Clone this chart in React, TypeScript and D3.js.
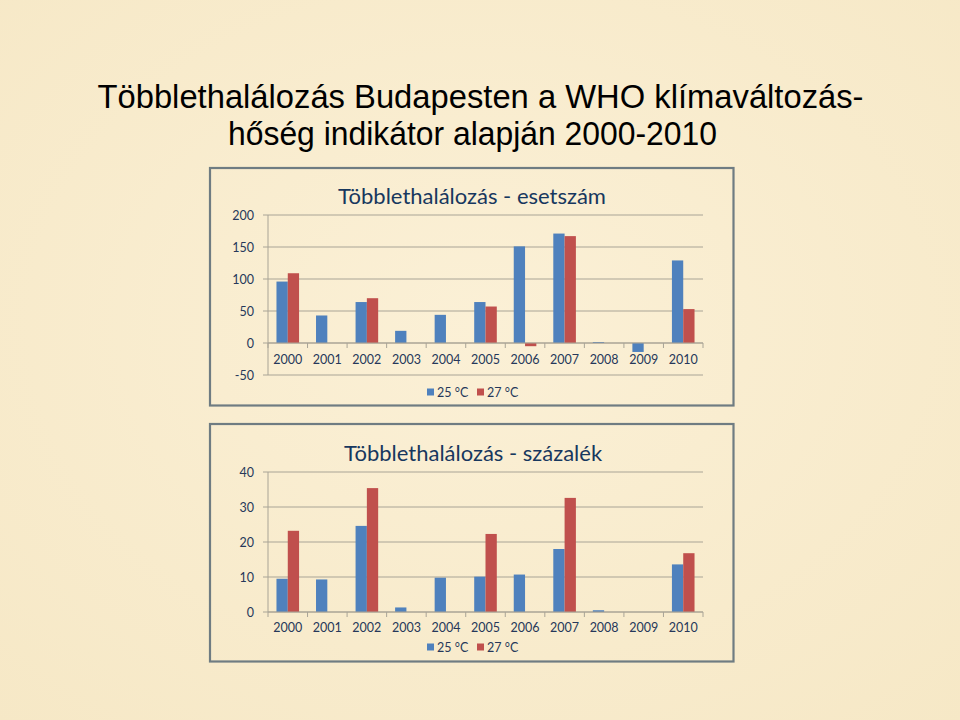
import React from "react";
import * as d3 from "d3";

const years = ["2000","2001","2002","2003","2004","2005","2006","2007","2008","2009","2010"];
const seriesNames = ["25 °C", "27 °C"];
const countsT25 = [96, 43, 64, 19, 44, 64, 151, 171, 1.5, -14, 129];
const countsT27 = [109, 0, 70, 0, 0, 57, -5, 167, 0, 0, 53];
const pctT25 = [9.5, 9.3, 24.6, 1.3, 9.8, 10.1, 10.7, 18, 0.5, 0, 13.6];
const pctT27 = [23.2, 0, 35.4, 0, 0, 22.3, 0, 32.6, 0, 0, 16.8];
const countTicks = [200, 150, 100, 50, 0, -50];
const pctTicks = [40, 30, 20, 10, 0];

const COLORS = ["#4F81BD", "#C0504D"];
const TXT = "#26385A";
const GRID = "#A9A496";
const FONT = "Lato, 'Open Sans', sans-serif";

type PanelProps = {
  top: number; bottom: number; title: string; titleY: number; titleX: number;
  domain: [number, number]; yTop: number; yBottom: number; ticks: number[];
  s1: number[]; s2: number[]; labelY: number; legendY: number;
};

function Panel(p: PanelProps) {
  const left = 268, right = 703;
  const x = d3.scaleBand<string>().domain(years).range([left, right]).paddingInner(0).paddingOuter(0);
  const step = x.step();
  const barW = step / 3.5;
  const inner = d3.scaleBand<string>().domain(seriesNames).range([0.75 * barW, 2.75 * barW]);
  const y = d3.scaleLinear().domain(p.domain).range([p.yBottom, p.yTop]);
  const y0 = y(0);
  const series = [p.s1, p.s2];
  return (
    <g>
      <rect x={210} y={p.top} width={523.5} height={p.bottom - p.top} fill="none" stroke="#6F7C82" strokeWidth={2.2} />
      <text x={p.titleX} y={p.titleY} textAnchor="middle" dominantBaseline="central" fontFamily={FONT} fontSize={22} fill="#17375E">{p.title}</text>
      {p.ticks.map((t) => (
        <g key={t}>
          <line x1={left} x2={right} y1={y(t)} y2={y(t)} stroke={GRID} strokeWidth={1} />
          <line x1={left - 5} x2={left} y1={y(t)} y2={y(t)} stroke={GRID} strokeWidth={1} />
          <text x={254} y={y(t)} textAnchor="end" dominantBaseline="central" fontFamily={FONT} fontSize={12.5} fill={TXT}>{t}</text>
        </g>
      ))}
      <line x1={left} x2={left} y1={y(p.domain[1])} y2={y(p.domain[0])} stroke={GRID} strokeWidth={1} />
      {years.map((yr, i) => (
        <g key={yr}>
          {series.map((s, k) => {
            const v = s[i];
            if (v === 0) return null;
            const bx = (x(yr) as number) + (inner(seriesNames[k]) as number);
            return <rect key={k} x={bx} width={inner.bandwidth()} y={Math.min(y(v), y0)} height={Math.abs(y(v) - y0)} fill={COLORS[k]} />;
          })}
          <text x={(x(yr) as number) + step / 2} y={p.labelY} textAnchor="middle" dominantBaseline="central" fontFamily={FONT} fontSize={12.5} fill={TXT}>{yr}</text>
        </g>
      ))}
      <line x1={left} x2={right} y1={y0} y2={y0} stroke={GRID} strokeWidth={1.2} />
      {[...years.map((yr) => x(yr) as number), right].map((tx, i) => (
        <line key={i} x1={tx} x2={tx} y1={y0} y2={y0 + 5} stroke={GRID} strokeWidth={1} />
      ))}
      <g transform={`translate(427,${p.legendY})`}>
        {seriesNames.map((n, k) => (
          <g key={n} transform={`translate(${k * 50},0)`}>
            <rect x={0} y={-3.5} width={7} height={7} fill={COLORS[k]} />
            <text x={10} y={0} dominantBaseline="central" fontFamily={FONT} fontSize={12.5} fill={TXT}>{n}</text>
          </g>
        ))}
      </g>
    </g>
  );
}

export default function App() {
  return (
    <svg width={960} height={720} style={{ position: "absolute", left: 0, top: 0, display: "block" }}>
      <defs>
        <radialGradient id="bg" cx="50%" cy="45%" r="75%">
          <stop offset="0%" stopColor="#FBF0D6" />
          <stop offset="100%" stopColor="#F6E8C6" />
        </radialGradient>
      </defs>
      <rect x={0} y={0} width={960} height={720} fill="url(#bg)" />
      <text x={480.5} y={108} textAnchor="middle" textLength={766} lengthAdjust="spacingAndGlyphs" fontFamily="'Liberation Sans', Arial, sans-serif" fontSize={32.5} fill="#000">Többlethalálozás Budapesten a WHO klímaváltozás-</text>
      <text x={472.5} y={145} textAnchor="middle" textLength={489} lengthAdjust="spacingAndGlyphs" fontFamily="'Liberation Sans', Arial, sans-serif" fontSize={32.5} fill="#000">hőség indikátor alapján 2000-2010</text>
      <Panel top={168} bottom={405.5} title="Többlethalálozás - esetszám" titleY={195} titleX={472}
        domain={[-50, 200]} yTop={215} yBottom={375} ticks={countTicks}
        s1={countsT25} s2={countsT27} labelY={359} legendY={392} />
      <Panel top={424} bottom={661.5} title="Többlethalálozás - százalék" titleY={452} titleX={473}
        domain={[0, 40]} yTop={472} yBottom={612} ticks={pctTicks}
        s1={pctT25} s2={pctT27} labelY={627} legendY={647} />
    </svg>
  );
}
